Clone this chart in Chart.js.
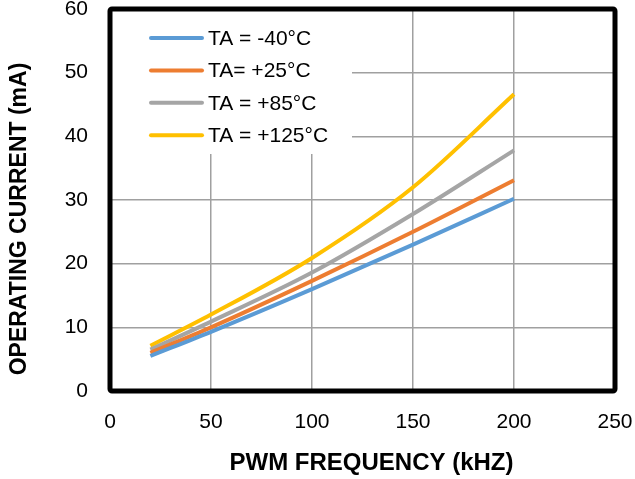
<!DOCTYPE html>
<html>
<head>
<meta charset="utf-8">
<script src="https://cdn.jsdelivr.net/npm/chart.js@4/dist/chart.umd.min.js"></script>
<style>
  html, body { margin: 0; padding: 0; background: #fff; }
  #wrap { width: 635px; height: 479px; position: relative; }
</style>
</head>
<body>
<div id="wrap"><canvas id="c" width="635" height="479"></canvas></div>
<script>
const freqKHz = [20, 50, 100, 150, 200];
const seriesLabels = ['TA = -40°C', 'TA= +25°C', 'TA = +85°C', 'TA = +125°C'];
const currentM40 = [5.5, 9.3, 16.0, 23.0, 30.2];
const current25 = [6.0, 10.0, 17.3, 25.0, 33.1];
const current85 = [6.5, 10.9, 18.6, 27.8, 37.8];
const current125 = [7.1, 12.0, 20.9, 32.0, 46.6];
const xTicks = [0, 50, 100, 150, 200, 250];
const yTicks = [0, 10, 20, 30, 40, 50, 60];
const xTitle = 'PWM FREQUENCY (kHZ)';
const yTitle = 'OPERATING CURRENT (mA)';

const colors = ['#5B9BD5', '#ED7D31', '#A5A5A5', '#FFC000'];
const allSeries = [currentM40, current25, current85, current125];

const datasets = allSeries.map((vals, i) => ({
  label: seriesLabels[i],
  data: freqKHz.map((f, j) => ({ x: f, y: vals[j] })),
  borderColor: colors[i],
  backgroundColor: colors[i],
  borderWidth: 4,
  pointRadius: 0,
  cubicInterpolationMode: 'monotone',
  fill: false
}));

const FONT = "'Liberation Sans', Arial, sans-serif";

const insideLegend = {
  id: 'insideLegend',
  afterDatasetsDraw(chart) {
    const ctx = chart.ctx;
    const a = chart.chartArea;
    ctx.save();
    ctx.fillStyle = '#fff';
    ctx.fillRect(a.left + 2, a.top + 2, 240, 143);
    ctx.font = '21px ' + FONT;
    ctx.textBaseline = 'middle';
    ctx.textAlign = 'left';
    chart.data.datasets.forEach((ds, i) => {
      const y = a.top + 29 + i * 32.4;
      ctx.strokeStyle = ds.borderColor;
      ctx.lineWidth = 4;
      ctx.lineCap = 'round';
      ctx.beginPath();
      ctx.moveTo(a.left + 41, y);
      ctx.lineTo(a.left + 92, y);
      ctx.stroke();
      ctx.fillStyle = '#000';
      ctx.fillText(ds.label, a.left + 98, y + 1);
    });
    ctx.restore();
  }
};

const plotFrame = {
  id: 'plotFrame',
  afterDraw(chart) {
    const ctx = chart.ctx;
    const a = chart.chartArea;
    ctx.save();
    ctx.strokeStyle = '#000';
    ctx.lineWidth = 5;
    ctx.lineJoin = 'round';
    ctx.beginPath();
    if (ctx.roundRect) ctx.roundRect(a.left, a.top, a.right - a.left, a.bottom - a.top, 2);
    else ctx.rect(a.left, a.top, a.right - a.left, a.bottom - a.top);
    ctx.stroke();
    // axis titles
    ctx.fillStyle = '#000';
    ctx.textAlign = 'center';
    ctx.textBaseline = 'middle';
    ctx.font = 'bold 24px ' + FONT;
    ctx.fillText(xTitle, (a.left + a.right) / 2 + 9, 463);
    ctx.translate(20, (a.top + a.bottom) / 2 + 19);
    ctx.rotate(-Math.PI / 2);
    ctx.font = 'bold 23px ' + FONT;
    ctx.fillText(yTitle, 0, 0);
    ctx.restore();
  }
};

function zeroPad(scale) {
  scale.paddingTop = 0; scale.paddingBottom = 0;
  scale.paddingLeft = 0; scale.paddingRight = 0;
}

new Chart(document.getElementById('c'), {
  type: 'line',
  data: { datasets },
  options: {
    responsive: false,
    animation: false,
    devicePixelRatio: 1,
    layout: { padding: { top: 9, right: 20, bottom: 0, left: 0 } },
    plugins: {
      legend: { display: false },
      tooltip: { enabled: false },
      title: { display: false }
    },
    scales: {
      x: {
        type: 'linear',
        min: 0, max: 250,
        afterBuildTicks(scale) { scale.ticks = xTicks.map(v => ({ value: v })); },
        afterFit(scale) { scale.height = 88; zeroPad(scale); },
        grid: { color: '#a0a0a0', lineWidth: 1.5, drawTicks: false },
        border: { display: false },
        ticks: { color: '#000', font: { family: FONT, size: 21 }, padding: 19, maxRotation: 0 },
        title: { display: false, text: xTitle }
      },
      y: {
        type: 'linear',
        min: 0, max: 60,
        afterBuildTicks(scale) { scale.ticks = yTicks.map(v => ({ value: v })); },
        afterFit(scale) { scale.width = 110; zeroPad(scale); },
        grid: { color: '#a0a0a0', lineWidth: 1.5, drawTicks: false },
        border: { display: false },
        ticks: { color: '#000', font: { family: FONT, size: 21 }, padding: 22 },
        title: { display: false, text: yTitle }
      }
    }
  },
  plugins: [insideLegend, plotFrame]
});
</script>
</body>
</html>
